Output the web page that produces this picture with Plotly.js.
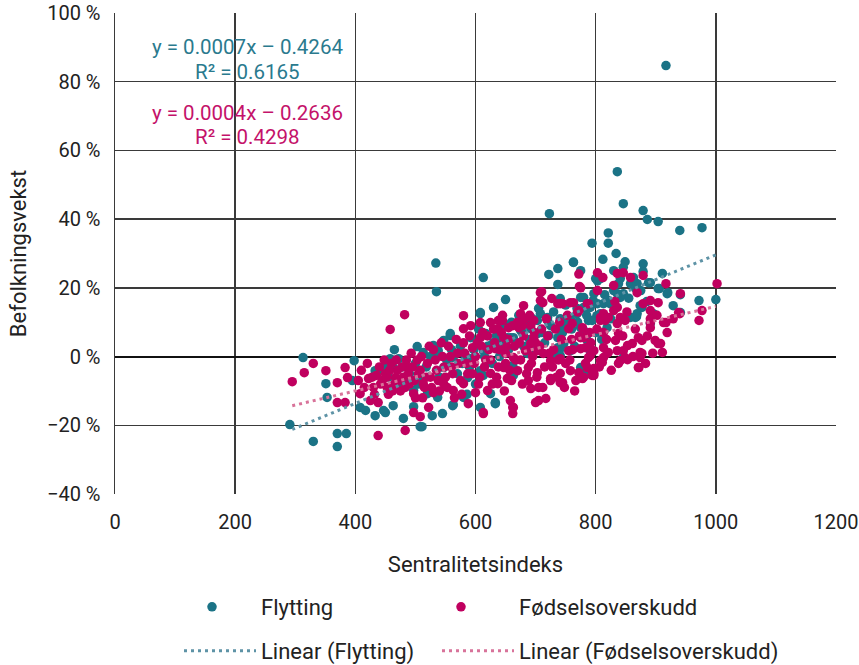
<!DOCTYPE html>
<html><head><meta charset="utf-8">
<script src="https://cdn.plot.ly/plotly-3.0.1.min.js"></script>
<style>body{margin:0;background:#fff}#c{width:859px;height:665px}</style>
</head><body><div id="c"></div>
<script>
// Flytting: [sentralitetsindeks, befolkningsvekst %]
const flyPoints = [
[291,-19.8],[313,-0.3],[330,-24.7],[370,-22.4],[385,-22.4],[370,-26.2],[398,-1.2],[351,-7.9],[353,-11.9],[395,-7],
[408,-14.8],[417,-15.7],[433,-17.2],[450,-16.3],[463,-14.3],[438,-4.1],[453,-3.5],[463,-3.2],[458,-0.6],[465,2],
[472,-0.6],[503,2.9],[497,-14.6],[511,-20.4],[528,-17.2],[545,-16.6],[563,-14],[586,-11],[608,-14.8],[633,-13.7],
[536,0.9],[547,4.7],[558,6.1],[608,12.5],[613,23],[534,27.2],[535,18.9],[723,41.6],[836,53.8],[846,44.5],
[879,42.5],[886,39.9],[904,39.3],[940,36.7],[977,37.5],[917,84.7],[1000,16.6],[972,16.3],[929,14.8],[911,24.2],
[821,36],[794,33],[821,33],[834,30],[763,27.5],[812,28.3],[849,27.6],[846,26],[879,27],[879,24.7],
[868,21.2],[838,21.2],[888,21.5],[830,19.2],[920,18.6],[841,17.2],[875,19.2],[906,19.8],[741,16.9],[775,17.2],
[796,16.3],[813,15.4],[941,18],[877,14.3],[868,11.6],[802,11.9],[788,10.5],[769,12.5],[758,11],[746,8.4],
[741,2.3],[783,-3.5],[846,-0.3],[819,8.4],[803,22],[775,25],[800,22.7],[722,23.9],[737,21],[650,16.6],
[630,14.3],[797,18.3],[808,22.7],[780,14.3],[741,11],[708,12.5],[720,10.5],[692,8.1],[678,7],[658,5.5],
[642,4.1],[722,6.1],[737,2.6],[741,0.3],[780,7.6],[794,10.5],[808,12.5],[824,15.4],[633,-13.4],[663,-5.5],
[703,6.7],[841,22.7],[858,21.2],[866,20],[891,21.5],[904,19.8],[919,18.3],[874,14.8],[896,12.5],[866,11.4],
[941,12.8],[891,9.6],[846,18.3],[737,25.6],[763,27.4],[869,21.2],[863,23],[836,18.3],[803,15.4],[780,17.2],
[791,14.3],[769,14],[753,10.5],[720,11.4],[705,14],[703,10.5],[686,9.6],[675,7.6],[663,5.5],[653,5.5],
[625,3.2],[613,1.7],[737,5.5],[747,3.8],[758,1.7],[775,8.4],[786,4.7],[775,-3.2],[786,-4.9],[858,11.4],
[869,12.5],[821,16.3],[613,-5.5],[662,-2.6],[686,0.9],[733,-0.3],[433,-4.1],[447,-3.5],[513,1.2],[530,3.2],
[538,1.7],[558,6.7],[592,5.5],[603,3.8],[608,12.8],[617,6.7],[630,4.1],[563,-0.3],[578,-2],[592,-0.6],
[608,-4.1],[547,-3.2],[458,-9],[447,-15.7],[480,-18],[508,-20.4],[562,-14.3],[580,-11.9],[537,-11.9],[520,-10.8],
[497,-9.9],[587,-6.1],[487,-7],[513,-6.1],[625,-10.8],
[455,-6],[470,-8],[478,-3],[490,-5],[500,-2],[505,-8],[518,-3],[525,0],[540,-6],[552,-1],
[560,2],[570,-5],[575,3],[583,0],[590,-3],[597,2],[600,-8],[605,8],[615,0],[620,3],
[628,-2],[635,6],[640,0],[648,9],[655,2],[660,10],[668,4],[672,12],[680,3],[690,5],
[695,11],[700,2],[710,7],[715,4],[725,9],[730,13],[745,7],[750,15],[760,8],[765,3],
[770,10],[785,12],[790,2],[800,7],[810,5],[815,18],[825,11],[830,25],[855,17],[885,16]
];
// Fødselsoverskudd: [sentralitetsindeks, befolkningsvekst %]
const fodPoints = [
[295,-7.3],[315,-4.7],[330,-2],[351,-4.1],[370,-7.6],[370,-13.4],[383,-3.2],[383,-13.4],[387,-6.1],[405,-7],
[422,-6.4],[435,-5.5],[408,-10.8],[425,-12.8],[438,-13.4],[438,-23],[483,-21.5],[497,-16.3],[508,-17.5],[522,-14.8],
[458,7.9],[482,12.2],[487,-3.2],[467,-6.1],[453,-9],[497,-10.8],[513,-7.9],[530,-10.5],[547,-7.9],[563,-9.9],
[580,-7.9],[580,11.9],[580,8.1],[595,2.6],[608,9.9],[625,9.9],[638,10.5],[613,-16.6],[588,-13.7],[600,-10.5],
[620,-9.9],[772,24],[803,24.4],[773,20.4],[788,15.4],[812,23],[830,20.7],[710,18.9],[712,15.7],[727,16.9],
[745,15.4],[680,14.8],[675,12.5],[697,10.5],[692,3.8],[683,1.7],[703,1.7],[713,0.9],[725,-1.2],[741,-0.6],
[755,1.7],[775,2.3],[791,0.3],[786,-3.2],[797,-4.9],[778,-6.4],[808,-1.2],[819,0.9],[836,1.7],[813,2.6],
[816,10.5],[808,10.5],[761,9.6],[780,5.5],[642,10.5],[655,8.4],[678,9],[633,2.3],[650,0.9],[663,-0.3],
[647,-3.2],[670,-4.1],[688,-3.2],[625,-4.9],[637,-7.9],[653,-6.4],[688,-7],[703,-4.7],[725,-6.4],[741,-4.9],
[745,-7.6],[758,-4.1],[692,-9.3],[705,-12.8],[717,-12.2],[662,-14.8],[662,-16.6],[836,24.2],[846,24.4],[858,23],
[879,23.6],[775,20],[803,19.2],[917,21.2],[941,18.3],[891,16.3],[879,15.4],[904,15.7],[891,13.4],[938,12.8],
[830,13.4],[836,14.3],[813,12.5],[786,15.4],[763,15.7],[741,15.4],[808,11.4],[821,11.4],[841,11.4],[836,9.6],
[891,9.9],[913,9.9],[929,11],[919,7],[899,4.7],[871,5.5],[838,6.7],[833,4.7],[813,7],[853,3.2],
[861,3.8],[846,1.7],[874,1.2],[874,-0.3],[908,3.8],[911,1.2],[871,-3.2],[838,-2],[853,-0.9],[813,-0.3],
[821,1.2],[811,-1.7],[788,-0.3],[783,2.6],[797,1.7],[786,6.7],[775,5.5],[778,8.4],[755,8.1],[794,-4.1],
[772,-4.7],[797,-5.5],[741,-7.6],[1002,21.2],[977,13.4],[972,10.5],[940,12.5],[917,9.9],[891,11],[891,8.4],
[869,18.6],[849,10.5],[849,-0.3],[841,-1.2],[872,-3.2],[877,0.9],[877,4.7],[904,3.8],[708,18.6],[708,16.3],
[737,15.4],[758,15.7],[772,13.4],[645,10.5],[637,8.1],[672,8.4],[692,9],[697,5.5],[608,5.5],[647,5.5],
[658,-12.8],[663,-14.8],[700,-13.4],[725,-7],[775,-6.1],[794,-5.5],[797,-3.5],[613,-16.3],
[430,-9],[440,-3],[445,-7],[450,-5],[455,-11],[460,-2],[465,-8],[470,-4],[475,-10],[480,-6],
[485,-1],[490,-8],[495,-3],[500,-12],[505,-5],[510,0],[515,-9],[520,-2],[525,-6],[530,2],
[535,-4],[540,-10],[545,0],[550,-6],[555,3],[560,-3],[565,-12],[570,1],[575,-7],[580,4],
[585,-2],[590,6],[595,-5],[600,0],[605,-8],[610,3],[615,-3],[620,6],[625,-1],[630,8],
[635,-6],[640,2],[645,12],[650,-2],[655,5],[660,-7],[665,3],[670,10],[675,-1],[680,6],
[685,-5],[690,12],[695,0],[700,4],[705,-9],[710,8],[715,-3],[720,6],[730,2],[735,-6],
[740,10],[750,-2],[760,5],[765,-10],[770,13],[780,-6],[790,7],
[410,-4],[415,-9],[420,-2],[428,-6],[432,-11],[442,-8],[448,-1],[452,-6],[457,-4],[462,-10],
[468,-1],[473,-7],[478,-3],[483,-9],[488,-5],[493,1],[498,-7],[503,-1],[508,-4],[512,-12],
[518,-6],[523,3],[527,-9],[533,-1],[538,-7],[543,4],[548,-3],[553,-9],[558,0],[562,-5],
[568,5],[572,-2],[577,-11],[582,1],[587,-5],[592,9],[598,-2],[603,4],[607,-6],[612,7],
[617,-1],[622,2],[628,-8],[632,4],[638,-3],[643,7],[648,-10],[652,3],[657,-4],[662,9],
[667,-1],[673,4],[678,-8],[682,11],[687,2],[693,-2],[698,7],[702,-6],[707,3],[712,-9],
[718,11],[723,1],[728,-3],[733,8],[738,-1],[743,5],[748,-9],[753,12],[757,-1],[762,2],
[767,-7],[773,6],[783,-2],[792,4],[802,8],[806,-3],[818,5],[826,-4],[832,16],[845,6],
[852,13],[862,0],[866,8],[883,-2],[886,6],[895,1],[902,12]
];
// Trendline end points
const trendX = [295, 1000];
const flyTrendY = [-21.2, 29.6];
const fodTrendY = [-14.3, 14.6];
const xTicks = [0, 200, 400, 600, 800, 1000, 1200];
const yTicks = [-40, -20, 0, 20, 40, 60, 80, 100];

const TEAL = '#1b7386', PINK = '#c0005f';
const TEAL_T = '#5e93a6', PINK_T = '#d8739a';
const F = 'Roboto, "Liberation Sans", sans-serif';

const traces = [
  {type:'scatter', mode:'markers', name:'Flytting', x:flyPoints.map(p=>p[0]), y:flyPoints.map(p=>p[1]),
   marker:{color:TEAL, size:9.5}, legend:'legend'},
  {type:'scatter', mode:'markers', name:'Fødselsoverskudd', x:fodPoints.map(p=>p[0]), y:fodPoints.map(p=>p[1]),
   marker:{color:PINK, size:9.5}, legend:'legend2'},
  {type:'scatter', mode:'lines', name:'Linear (Flytting)', x:trendX, y:flyTrendY,
   line:{color:TEAL_T, width:3, dash:'3px,4px'}, legend:'legend3'},
  {type:'scatter', mode:'lines', name:'Linear (Fødselsoverskudd)', x:trendX, y:fodTrendY,
   line:{color:PINK_T, width:3, dash:'3px,4px'}, legend:'legend4'}
];

const yText = yTicks.map(v => (v < 0 ? '\u2212' + (-v) : String(v)) + ' %');

function leg(x0, yPx, w) {
  return {orientation:'h', xref:'container', yref:'container', x:x0/859, xanchor:'left', y:1-yPx/665, yanchor:'middle',
    itemwidth:w, font:{size:22, color:'#222'}, bgcolor:'rgba(0,0,0,0)'};
}

const layout = {
  width:859, height:665,
  margin:{l:115, r:23, t:13, b:171},
  paper_bgcolor:'#fff', plot_bgcolor:'#fff',
  font:{family:F, size:20, color:'#222'},
  showlegend:true,
  xaxis:{range:[0,1200], tickvals:xTicks, ticktext:xTicks.map(String), showgrid:true, gridcolor:'#3a3a3a', gridwidth:1.5,
    zeroline:false, showline:false, ticks:'', ticklabelstandoff:14, tickfont:{size:20, color:'#222'},
    title:{text:'Sentralitetsindeks', font:{size:22, color:'#222'}, standoff:23}, automargin:false, fixedrange:true},
  yaxis:{range:[-40,100], tickvals:yTicks, ticktext:yText, showgrid:true, gridcolor:'#3a3a3a', gridwidth:1.5,
    zeroline:true, zerolinecolor:'#111', zerolinewidth:2, showline:true, linecolor:'#3a3a3a', linewidth:1.5,
    ticks:'', ticklabelstandoff:9, tickfont:{size:20, color:'#222'},
    title:{text:'Befolkningsvekst', font:{size:22, color:'#222'}, standoff:14},
    automargin:false, fixedrange:true},
  legend: leg(163, 607, 88),
  legend2: leg(403, 607, 106),
  legend3: leg(179, 651, 72),
  legend4: leg(437, 651, 72),
  annotations:[
    {xref:'x', yref:'y', x:221, y:90, text:'y = 0.0007x – 0.4264', showarrow:false, font:{size:20.5, color:'#2a7a8e'}},
    {xref:'x', yref:'y', x:221, y:82.7, text:'R² = 0.6165', showarrow:false, font:{size:20.5, color:'#2a7a8e'}},
    {xref:'x', yref:'y', x:221, y:71, text:'y = 0.0004x – 0.2636', showarrow:false, font:{size:20.5, color:'#c4126a'}},
    {xref:'x', yref:'y', x:221, y:64, text:'R² = 0.4298', showarrow:false, font:{size:20.5, color:'#c4126a'}}
  ]
};
Plotly.newPlot('c', traces, layout, {displayModeBar:false, staticPlot:true});
</script></body></html>
